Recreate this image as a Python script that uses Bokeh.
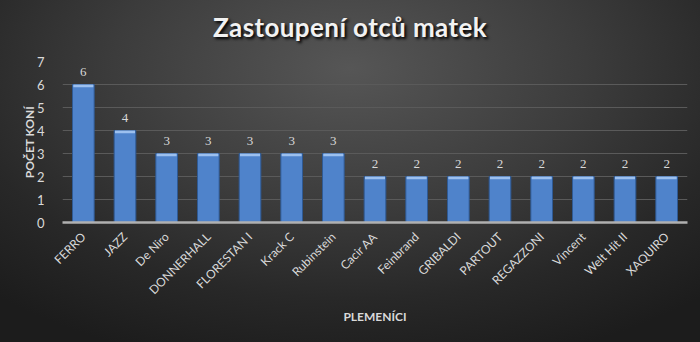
from math import pi
from bokeh.plotting import figure
from bokeh.layouts import column
from bokeh.models import ColumnDataSource, LabelSet, Range1d, FactorRange, Div
from bokeh.embed import file_html
from bokeh.resources import INLINE

categories = ["FERRO", "JAZZ", "De Niro", "DONNERHALL", "FLORESTAN I", "Krack C",
              "Rubinstein", "Cacir AA", "Feinbrand", "GRIBALDI", "PARTOUT",
              "REGAZZONI", "Vincent", "Welt Hit II", "XAQUIRO"]
values = [6, 4, 3, 3, 3, 3, 3, 2, 2, 2, 2, 2, 2, 2, 2]
y_ticks = [0, 1, 2, 3, 4, 5, 6, 7]
title_text = "Zastoupení otců matek"

FONT = "Lato"
TXT = "#d9d9d9"

src = ColumnDataSource(dict(cat=categories, val=values,
                            lab=[str(v) for v in values],
                            hl=[v - 0.12 for v in values]))

TITLE_H = 46
head = Div(text=title_text, width=700, height=TITLE_H, margin=0,
           styles={"font-family": "Lato", "font-size": "26px", "font-weight": "bold",
                   "color": "#f2f2f2", "text-align": "center", "line-height": "54px",
                   "letter-spacing": "0.4px",
                   "width": "700px", "text-shadow": "2px 2px 3px #000"})

p = figure(x_range=FactorRange(*categories), y_range=Range1d(0, 7),
           width=700, height=342 - TITLE_H, output_backend="svg", toolbar_location=None,
           min_border_left=62, min_border_right=13, min_border_top=61 - TITLE_H,
           min_border_bottom=120, margin=0)

p.background_fill_alpha = 0
p.border_fill_alpha = 0
p.outline_line_color = None

p.vbar(x="cat", top="val", width=0.52, source=src,
       fill_color="#4f83cb", line_color="#2f5a94", line_width=1)
p.vbar(x="cat", top="val", bottom="hl", width=0.48, source=src,
       fill_color="#9cc0ef", line_color=None)

labels = LabelSet(x="cat", y="val", text="lab", source=src, text_align="center",
                  text_baseline="bottom", y_offset=9, text_color=TXT,
                  text_font=FONT, text_font_size="13px")
p.add_layout(labels)

p.xgrid.grid_line_color = None
p.ygrid.grid_line_color = "#5a5a5a"
p.ygrid.grid_line_width = 1
p.yaxis.ticker = y_ticks

p.yaxis.axis_line_color = None
p.yaxis.major_tick_line_color = None
p.yaxis.minor_tick_line_color = None
p.yaxis.major_label_text_color = TXT
p.yaxis.major_label_text_font = FONT
p.yaxis.major_label_text_font_size = "13px"
p.yaxis.major_label_standoff = 12
p.yaxis.axis_label = "POČET KONÍ"
p.yaxis.axis_label_text_font = FONT
p.yaxis.axis_label_text_font_style = "bold"
p.yaxis.axis_label_text_font_size = "12px"
p.yaxis.axis_label_text_color = TXT
p.yaxis.axis_label_standoff = -3

p.xaxis.axis_line_color = "#b0b0b0"
p.xaxis.axis_line_width = 2.5
p.xaxis.major_tick_line_color = None
p.xaxis.minor_tick_line_color = None
p.xaxis.major_label_orientation = pi / 4
p.xaxis.major_label_text_color = TXT
p.xaxis.major_label_text_font = FONT
p.xaxis.major_label_text_font_size = "12px"
p.xaxis.major_label_standoff = 6
p.xaxis.axis_label = "PLEMENÍCI"
p.xaxis.axis_label_text_font = FONT
p.xaxis.axis_label_text_font_style = "bold"
p.xaxis.axis_label_text_font_size = "12px"
p.xaxis.axis_label_text_color = TXT
p.xaxis.axis_label_standoff = 4

layout = column(head, p, spacing=0, margin=0,
                styles={"background": "radial-gradient(ellipse 75% 90% at 50% 20%, #565656 0%, #3c3c3c 45%, #282828 75%, #1c1c1c 100%)"})

open("out.html", "w").write(file_html(layout, INLINE))
